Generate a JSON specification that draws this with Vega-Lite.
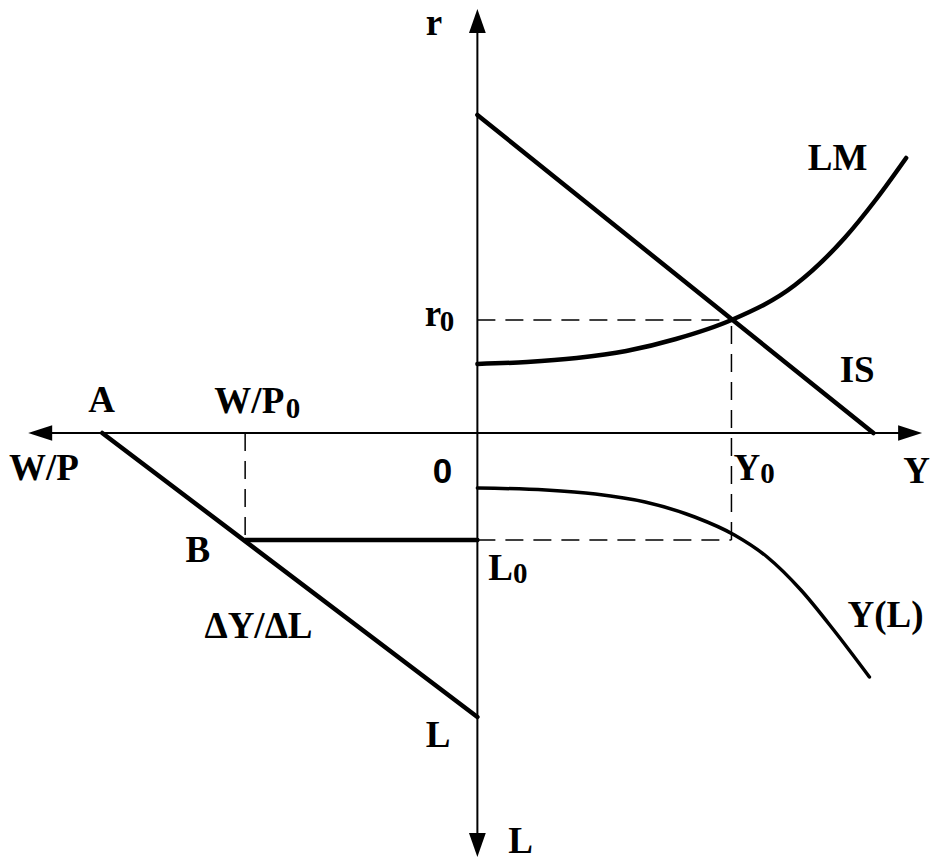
{
  "$schema": "https://vega.github.io/schema/vega-lite/v6.json",
  "width": 930,
  "height": 860,
  "padding": 0,
  "autosize": {"type": "fit", "contains": "padding"},
  "background": "white",
  "config": {"view": {"stroke": null}},
  "datasets": {
    "lines": [
      {"s": "vaxis", "o": 1, "x": 0, "y": 405},
      {"s": "vaxis", "o": 2, "x": 0, "y": -405},
      {"s": "haxis", "o": 1, "x": -440, "y": 0},
      {"s": "haxis", "o": 2, "x": 436, "y": 0},
      {"s": "AB", "o": 1, "x": -378, "y": 0},
      {"s": "AB", "o": 2, "x": 0, "y": -284},
      {"s": "Bh", "o": 1, "x": -234, "y": -107},
      {"s": "Bh", "o": 2, "x": 0, "y": -107},
      {"s": "IS", "o": 1, "x": 0, "y": 318},
      {"s": "IS", "o": 2, "x": 399, "y": 0},
      {"s": "dW", "o": 1, "x": -234, "y": 0},
      {"s": "dW", "o": 2, "x": -234, "y": -107},
      {"s": "dL", "o": 1, "x": 0, "y": -107},
      {"s": "dL", "o": 2, "x": 256, "y": -107},
      {"s": "dY", "o": 1, "x": 256, "y": -107},
      {"s": "dY", "o": 2, "x": 256, "y": 113},
      {"s": "dr", "o": 1, "x": 0, "y": 113},
      {"s": "dr", "o": 2, "x": 256, "y": 113},
      {"s": "LM", "o": 1, "x": 0, "y": 69},
      {"s": "LM", "o": 2, "x": 50, "y": 71},
      {"s": "LM", "o": 3, "x": 100, "y": 75},
      {"s": "LM", "o": 4, "x": 150, "y": 82},
      {"s": "LM", "o": 5, "x": 200, "y": 94},
      {"s": "LM", "o": 6, "x": 256, "y": 113},
      {"s": "LM", "o": 7, "x": 320, "y": 148},
      {"s": "LM", "o": 8, "x": 370, "y": 195},
      {"s": "LM", "o": 9, "x": 402, "y": 234},
      {"s": "LM", "o": 10, "x": 432, "y": 275},
      {"s": "YL", "o": 1, "x": 0, "y": -55},
      {"s": "YL", "o": 2, "x": 69, "y": -57},
      {"s": "YL", "o": 3, "x": 119, "y": -61},
      {"s": "YL", "o": 4, "x": 169, "y": -69},
      {"s": "YL", "o": 5, "x": 219, "y": -84},
      {"s": "YL", "o": 6, "x": 259, "y": -102},
      {"s": "YL", "o": 7, "x": 292, "y": -124},
      {"s": "YL", "o": 8, "x": 326, "y": -157},
      {"s": "YL", "o": 9, "x": 359, "y": -197},
      {"s": "YL", "o": 10, "x": 395, "y": -244}
    ],
    "arrows": [
      {"d": "up", "x": 0, "y": 412},
      {"d": "down", "x": 0, "y": -412},
      {"d": "left", "x": -440.5, "y": 0},
      {"d": "right", "x": 436, "y": 0}
    ],
    "labels": [
      {"t": "r", "k": "main", "x": -52, "y": 398},
      {"t": "LM", "k": "main", "x": 333, "y": 263},
      {"t": "r", "k": "main", "x": -53, "y": 107},
      {"t": "0", "k": "sub", "x": -38, "y": 102},
      {"t": "IS", "k": "main", "x": 365, "y": 51},
      {"t": "A", "k": "main", "x": -392, "y": 21},
      {"t": "W/P", "k": "main", "x": -265, "y": 20},
      {"t": "0", "k": "sub", "x": -193, "y": 15},
      {"t": "W/P", "k": "main", "x": -472, "y": -47},
      {"t": "Y", "k": "main", "x": 258, "y": -47},
      {"t": "0", "k": "sub", "x": 285, "y": -50},
      {"t": "Y", "k": "main", "x": 429, "y": -50},
      {"t": "B", "k": "main", "x": -294, "y": -129},
      {"t": "L", "k": "main", "x": 11, "y": -147},
      {"t": "0", "k": "sub", "x": 36, "y": -150},
      {"t": "ΔY/ΔL", "k": "main", "x": -275, "y": -205},
      {"t": "L", "k": "main", "x": -52, "y": -314},
      {"t": "L", "k": "main", "x": 31, "y": -420},
      {"t": "Y(L)", "k": "main", "x": 373, "y": -194},
      {"t": "0", "k": "sans", "x": -45, "y": -50}
    ]
  },
  "encoding": {
    "x": {"field": "x", "type": "quantitative", "scale": {"domain": [-481, 449], "nice": false, "zero": false}, "axis": null},
    "y": {"field": "y", "type": "quantitative", "scale": {"domain": [-427, 433], "nice": false, "zero": false}, "axis": null}
  },
  "layer": [
    {
      "data": {"name": "lines"},
      "transform": [{"filter": "datum.s === 'vaxis' || datum.s === 'haxis'"}],
      "mark": {"type": "line", "color": "black", "strokeWidth": 2},
      "encoding": {"detail": {"field": "s"}, "order": {"field": "o"}}
    },
    {
      "data": {"name": "lines"},
      "transform": [{"filter": "datum.s === 'dW' || datum.s === 'dL' || datum.s === 'dY' || datum.s === 'dr'"}],
      "mark": {"type": "line", "color": "black", "strokeWidth": 1.5, "strokeDash": [18, 10]},
      "encoding": {"detail": {"field": "s"}, "order": {"field": "o"}}
    },
    {
      "data": {"name": "lines"},
      "transform": [{"filter": "datum.s === 'AB' || datum.s === 'Bh' || datum.s === 'IS'"}],
      "mark": {"type": "line", "color": "black", "strokeWidth": 4.5, "strokeCap": "round"},
      "encoding": {"detail": {"field": "s"}, "order": {"field": "o"}}
    },
    {
      "data": {"name": "lines"},
      "transform": [{"filter": "datum.s === 'LM'"}],
      "mark": {"type": "line", "color": "black", "strokeWidth": 4.5, "strokeCap": "round", "interpolate": "monotone"},
      "encoding": {"order": {"field": "o"}}
    },
    {
      "data": {"name": "lines"},
      "transform": [{"filter": "datum.s === 'YL'"}],
      "mark": {"type": "line", "color": "black", "strokeWidth": 3.5, "strokeCap": "round", "interpolate": "monotone"},
      "encoding": {"order": {"field": "o"}}
    },
    {
      "data": {"name": "arrows"},
      "mark": {"type": "point", "filled": true, "color": "black", "opacity": 1, "strokeWidth": 0, "size": 576},
      "encoding": {
        "shape": {
          "field": "d", "type": "nominal", "legend": null,
          "scale": {
            "domain": ["up", "down", "left", "right"],
            "range": ["M0,-1L0.7,1L-0.7,1Z", "M0,1L0.7,-1L-0.7,-1Z", "M-1,0L1,-0.65L1,0.65Z", "M1,0L-1,-0.65L-1,0.65Z"]
          }
        }
      }
    },
    {
      "data": {"name": "labels"},
      "transform": [{"filter": "datum.k === 'main'"}],
      "mark": {"type": "text", "font": "Liberation Serif", "fontWeight": "bold", "fontSize": 37, "align": "left", "baseline": "alphabetic", "color": "black"},
      "encoding": {"text": {"field": "t"}}
    },
    {
      "data": {"name": "labels"},
      "transform": [{"filter": "datum.k === 'sub'"}],
      "mark": {"type": "text", "font": "Liberation Serif", "fontWeight": "bold", "fontSize": 29, "align": "left", "baseline": "alphabetic", "color": "black"},
      "encoding": {"text": {"field": "t"}}
    },
    {
      "data": {"name": "labels"},
      "transform": [{"filter": "datum.k === 'sans'"}],
      "mark": {"type": "text", "font": "Liberation Sans", "fontWeight": "bold", "fontSize": 35, "align": "left", "baseline": "alphabetic", "color": "black"},
      "encoding": {"text": {"field": "t"}}
    }
  ]
}
